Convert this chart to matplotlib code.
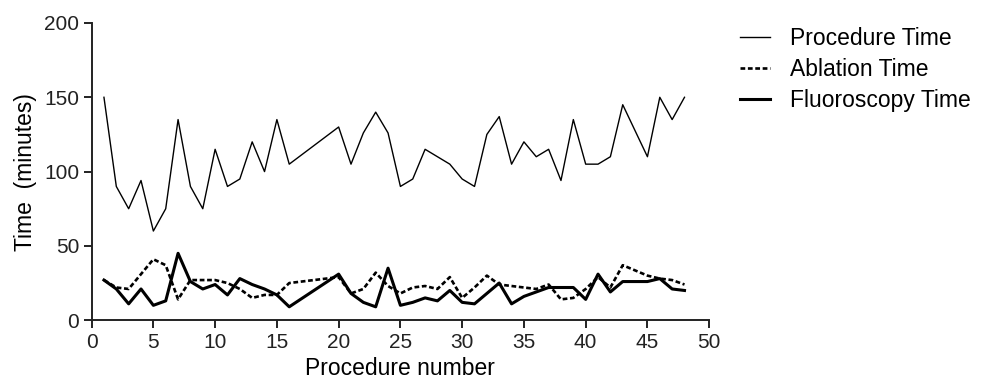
import matplotlib
matplotlib.use("Agg")
import matplotlib.pyplot as plt

plt.rcParams['font.family'] = ['Liberation Sans', 'DejaVu Sans']

# procedure numbers 17-19 and 44 are not in the data
procedure = [1, 2, 3, 4, 5, 6, 7, 8, 9, 10, 11, 12, 13, 14, 15, 16,
             20, 21, 22, 23, 24, 25, 26, 27, 28, 29, 30, 31, 32, 33, 34, 35,
             36, 37, 38, 39, 40, 41, 42, 43, 45, 46, 47, 48]

procedure_time = [150, 90, 75, 94, 60, 75, 135, 90, 75, 115, 90, 95, 120, 100, 135, 105,
                  130, 105, 126, 140, 126, 90, 95, 115, 110, 105, 95, 90, 125, 137, 105, 120,
                  110, 115, 94, 135, 105, 105, 110, 145, 110, 150, 135, 150]

ablation_time = [27, 22, 21, 31, 41, 37, 14, 27, 27, 27, 25, 21, 15, 17, 17, 25,
                 29, 18, 21, 32, 23, 18, 22, 23, 21, 29, 15, 22, 30, 24, 23, 22,
                 21, 24, 14, 15, 21, 29, 22, 37, 30, 28, 27, 24]

fluoro_time = [27, 21, 11, 21, 10, 13, 45, 26, 21, 24, 17, 28, 24, 21, 17, 9,
               31, 18, 12, 9, 35, 10, 12, 15, 13, 20, 12, 11, 18, 25, 11, 16,
               19, 22, 22, 22, 14, 31, 19, 26, 26, 28, 21, 20]

fig = plt.figure(figsize=(9.85, 3.83), dpi=100)
ax = fig.add_axes([0.093, 0.164, 0.627, 0.776])

ax.plot(procedure, procedure_time, color='black', lw=1.0, label='Procedure Time')
ax.plot(procedure, ablation_time, color='black', lw=1.9, ls=(0, (1.8, 1.0)), label='Ablation Time')
ax.plot(procedure, fluoro_time, color='black', lw=2.2, label='Fluoroscopy Time')

ax.set_xlim(0, 50)
ax.set_ylim(0, 200)
ax.set_xticks(range(0, 51, 5))
ax.set_yticks(range(0, 201, 50))
ax.spines['top'].set_visible(False)
ax.spines['right'].set_visible(False)
for s in ['left', 'bottom']:
    ax.spines[s].set_linewidth(1.4)
    ax.spines[s].set_color('#222222')
ax.tick_params(direction='out', length=6, width=1.4, labelsize=15, colors='#222222', pad=3)

ax.set_xlabel('Procedure number', fontsize=16.5, labelpad=4)
ax.set_ylabel('Time  (minutes)', fontsize=16.5, labelpad=5)

ax.legend(loc='upper left', bbox_to_anchor=(1.035, 1.018), frameon=False, fontsize=16.5,
          handlelength=1.3, handletextpad=0.87, labelspacing=0.36, borderaxespad=0)

fig.savefig('out.png', dpi=100)
